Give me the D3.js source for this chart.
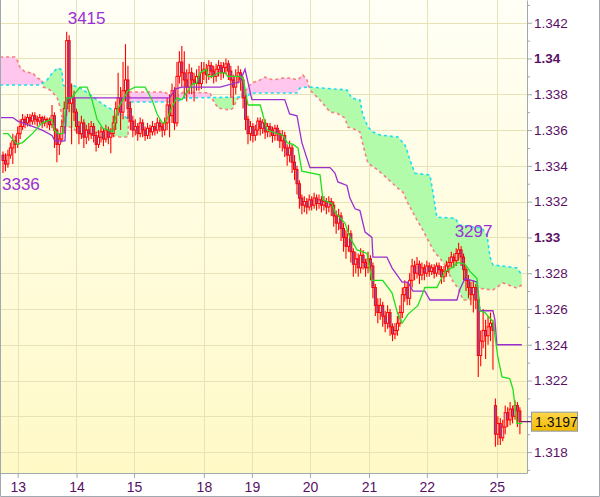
<!DOCTYPE html>
<html><head><meta charset="utf-8">
<script src="https://cdn.jsdelivr.net/npm/d3@7"></script>
<style>html,body{margin:0;padding:0;background:#fff;} svg{display:block;font-family:"Liberation Sans",Arial,sans-serif;}</style>
</head><body><svg id="c" width="600" height="497"></svg>
<script>
// ---- hourly candles (index 0..211) ----
const opens = [
1.3346,1.3343,1.3341,1.3346,1.3350,1.3354,1.3352,1.3358,1.3362,1.3366,
1.3364,1.3367,1.3365,1.3368,1.3366,1.3365,1.3367,1.3364,1.3366,1.3365,
1.3363,1.3368,1.3360,1.3352,1.3355,1.3362,1.3372,1.3410,1.3375,1.3378,
1.3370,1.3362,1.3358,1.3364,1.3356,1.3360,1.3358,1.3362,1.3357,1.3352,
1.3356,1.3359,1.3355,1.3360,1.3356,1.3358,1.3364,1.3372,1.3378,1.3370,
1.3382,1.3388,1.3372,1.3365,1.3360,1.3362,1.3358,1.3364,1.3360,1.3357,
1.3361,1.3359,1.3362,1.3360,1.3364,1.3362,1.3360,1.3364,1.3374,1.3368,
1.3382,1.3364,1.3390,1.3398,1.3392,1.3388,1.3384,1.3392,1.3388,1.3386,
1.3390,1.3386,1.3392,1.3394,1.3391,1.3396,1.3393,1.3390,1.3394,1.3396,
1.3392,1.3395,1.3397,1.3393,1.3388,1.3384,1.3390,1.3392,1.3388,1.3378,
1.3366,1.3358,1.3362,1.3357,1.3360,1.3365,1.3361,1.3364,1.3359,1.3362,
1.3360,1.3357,1.3361,1.3358,1.3354,1.3357,1.3350,1.3346,1.3350,1.3342,
1.3338,1.3330,1.3322,1.3318,1.3320,1.3317,1.3321,1.3318,1.3322,1.3319,
1.3321,1.3318,1.3320,1.3317,1.3320,1.3318,1.3312,1.3308,1.3312,1.3305,
1.3300,1.3295,1.3302,1.3292,1.3285,1.3288,1.3283,1.3290,1.3286,1.3283,
1.3288,1.3284,1.3272,1.3262,1.3258,1.3262,1.3256,1.3252,1.3258,1.3250,
1.3246,1.3248,1.3252,1.3258,1.3268,1.3272,1.3266,1.3276,1.3284,1.3280,
1.3285,1.3279,1.3283,1.3280,1.3284,1.3281,1.3283,1.3280,1.3284,1.3282,
1.3278,1.3281,1.3284,1.3286,1.3289,1.3287,1.3291,1.3293,1.3289,1.3282,
1.3276,1.3272,1.3268,1.3272,1.3265,1.3234,1.3242,1.3248,1.3245,1.3250,
1.3252,1.3206,1.3190,1.3196,1.3188,1.3194,1.3202,1.3198,1.3204,1.3200,
1.3206,1.3203];
const highs = [
1.3348,1.3347,1.3349,1.3353,1.3358,1.3357,1.3362,1.3366,1.3369,1.3368,
1.3369,1.3369,1.3370,1.3370,1.3368,1.3369,1.3368,1.3368,1.3367,1.3367,
1.3374,1.3370,1.3361,1.3358,1.3366,1.3376,1.3415,1.3413,1.3386,1.3382,
1.3372,1.3365,1.3368,1.3366,1.3363,1.3364,1.3365,1.3364,1.3359,1.3360,
1.3362,1.3361,1.3363,1.3362,1.3361,1.3368,1.3376,1.3392,1.3384,1.3398,
1.3408,1.3396,1.3376,1.3368,1.3366,1.3364,1.3367,1.3366,1.3362,1.3364,
1.3363,1.3365,1.3364,1.3367,1.3366,1.3364,1.3367,1.3378,1.3380,1.3386,
1.3384,1.3398,1.3404,1.3407,1.3404,1.3394,1.3397,1.3395,1.3392,1.3394,
1.3396,1.3398,1.3398,1.3397,1.3399,1.3398,1.3396,1.3397,1.3399,1.3398,
1.3398,1.3400,1.3399,1.3396,1.3391,1.3394,1.3396,1.3394,1.3390,1.3380,
1.3368,1.3365,1.3364,1.3363,1.3367,1.3367,1.3366,1.3366,1.3364,1.3364,
1.3362,1.3363,1.3363,1.3360,1.3360,1.3359,1.3352,1.3354,1.3352,1.3346,
1.3340,1.3332,1.3324,1.3323,1.3322,1.3324,1.3323,1.3325,1.3324,1.3324,
1.3323,1.3323,1.3322,1.3323,1.3322,1.3320,1.3315,1.3316,1.3314,1.3308,
1.3304,1.3307,1.3304,1.3294,1.3292,1.3291,1.3294,1.3293,1.3288,1.3292,
1.3290,1.3286,1.3274,1.3266,1.3266,1.3264,1.3259,1.3262,1.3260,1.3252,
1.3252,1.3256,1.3262,1.3272,1.3276,1.3275,1.3280,1.3288,1.3287,1.3289,
1.3287,1.3286,1.3285,1.3287,1.3286,1.3285,1.3285,1.3286,1.3286,1.3284,
1.3284,1.3287,1.3289,1.3292,1.3291,1.3294,1.3297,1.3295,1.3291,1.3284,
1.3279,1.3275,1.3276,1.3274,1.3268,1.3248,1.3260,1.3254,1.3256,1.3258,
1.3254,1.3210,1.3200,1.3199,1.3198,1.3206,1.3205,1.3208,1.3206,1.3209,
1.3208,1.3205];
const lows = [
1.3336,1.3337,1.3339,1.3344,1.3341,1.3347,1.3350,1.3355,1.3360,1.3361,
1.3362,1.3362,1.3363,1.3363,1.3362,1.3363,1.3361,1.3362,1.3361,1.3360,
1.3361,1.3350,1.3342,1.3346,1.3353,1.3358,1.3368,1.3370,1.3352,1.3365,
1.3358,1.3352,1.3355,1.3350,1.3352,1.3354,1.3355,1.3353,1.3348,1.3350,
1.3353,1.3351,1.3353,1.3352,1.3347,1.3356,1.3360,1.3368,1.3360,1.3366,
1.3376,1.3366,1.3360,1.3356,1.3357,1.3354,1.3356,1.3356,1.3354,1.3355,
1.3355,1.3357,1.3357,1.3358,1.3359,1.3356,1.3357,1.3360,1.3356,1.3364,
1.3360,1.3362,1.3386,1.3384,1.3378,1.3376,1.3380,1.3380,1.3376,1.3382,
1.3382,1.3383,1.3388,1.3386,1.3388,1.3389,1.3386,1.3387,1.3390,1.3388,
1.3389,1.3391,1.3388,1.3378,1.3374,1.3380,1.3386,1.3382,1.3372,1.3360,
1.3352,1.3354,1.3353,1.3354,1.3357,1.3357,1.3358,1.3355,1.3356,1.3356,
1.3353,1.3354,1.3354,1.3350,1.3348,1.3345,1.3340,1.3342,1.3336,1.3332,
1.3324,1.3316,1.3313,1.3314,1.3313,1.3315,1.3315,1.3316,1.3315,1.3316,
1.3314,1.3315,1.3313,1.3314,1.3312,1.3306,1.3302,1.3304,1.3298,1.3292,
1.3288,1.3292,1.3286,1.3278,1.3280,1.3278,1.3280,1.3282,1.3278,1.3280,
1.3276,1.3266,1.3256,1.3252,1.3254,1.3250,1.3247,1.3249,1.3245,1.3242,
1.3243,1.3245,1.3250,1.3255,1.3264,1.3262,1.3262,1.3272,1.3276,1.3277,
1.3274,1.3276,1.3276,1.3278,1.3278,1.3279,1.3277,1.3278,1.3279,1.3274,
1.3275,1.3278,1.3280,1.3283,1.3283,1.3284,1.3287,1.3284,1.3276,1.3270,
1.3266,1.3262,1.3258,1.3260,1.3222,1.3228,1.3238,1.3232,1.3240,1.3242,
1.3226,1.3183,1.3184,1.3184,1.3186,1.3190,1.3194,1.3195,1.3196,1.3198,
1.3194,1.3190];
const closes = [
1.3343,1.3341,1.3346,1.3350,1.3354,1.3352,1.3358,1.3362,1.3366,1.3364,
1.3367,1.3365,1.3368,1.3366,1.3365,1.3367,1.3364,1.3366,1.3365,1.3363,
1.3368,1.3360,1.3352,1.3355,1.3362,1.3372,1.3410,1.3375,1.3378,1.3370,
1.3362,1.3358,1.3364,1.3356,1.3360,1.3358,1.3362,1.3357,1.3352,1.3356,
1.3359,1.3355,1.3360,1.3356,1.3358,1.3364,1.3372,1.3378,1.3370,1.3382,
1.3388,1.3372,1.3365,1.3360,1.3362,1.3358,1.3364,1.3360,1.3357,1.3361,
1.3359,1.3362,1.3360,1.3364,1.3362,1.3360,1.3364,1.3374,1.3368,1.3382,
1.3364,1.3390,1.3398,1.3392,1.3388,1.3384,1.3392,1.3388,1.3386,1.3390,
1.3386,1.3392,1.3394,1.3391,1.3396,1.3393,1.3390,1.3394,1.3396,1.3392,
1.3395,1.3397,1.3393,1.3388,1.3384,1.3390,1.3392,1.3388,1.3378,1.3366,
1.3358,1.3362,1.3357,1.3360,1.3365,1.3361,1.3364,1.3359,1.3362,1.3360,
1.3357,1.3361,1.3358,1.3354,1.3357,1.3350,1.3346,1.3350,1.3342,1.3338,
1.3330,1.3322,1.3318,1.3320,1.3317,1.3321,1.3318,1.3322,1.3319,1.3321,
1.3318,1.3320,1.3317,1.3320,1.3318,1.3312,1.3308,1.3312,1.3305,1.3300,
1.3295,1.3302,1.3292,1.3285,1.3288,1.3283,1.3290,1.3286,1.3283,1.3288,
1.3284,1.3272,1.3262,1.3258,1.3262,1.3256,1.3252,1.3258,1.3250,1.3246,
1.3248,1.3252,1.3258,1.3268,1.3272,1.3266,1.3276,1.3284,1.3280,1.3285,
1.3279,1.3283,1.3280,1.3284,1.3281,1.3283,1.3280,1.3284,1.3282,1.3278,
1.3281,1.3284,1.3286,1.3289,1.3287,1.3291,1.3293,1.3289,1.3282,1.3276,
1.3272,1.3268,1.3272,1.3265,1.3234,1.3242,1.3248,1.3245,1.3250,1.3252,
1.3248,1.3190,1.3196,1.3188,1.3194,1.3202,1.3198,1.3204,1.3200,1.3206,
1.3203,1.3197];

// ---- date axis ----
const dateLabels = ["13","14","15","18","19","20","21","22","25"];
const dateIdx = [6, 30, 53.5, 82, 101.6, 125.3, 149.4, 173, 201.6];

// ---- price axis ----
const majorTicks = [1.318,1.320,1.322,1.324,1.326,1.328,1.330,1.332,1.334,1.336,1.338,1.340,1.342];
const minorTicks = [1.317,1.319,1.321,1.323,1.325,1.327,1.329,1.331,1.333,1.335,1.337,1.339,1.341,1.343];
const boldTicks = [1.320,1.330,1.340];

// ---- Ichimoku lines (index, price) ----
const tenkanIdx = [0,2,5.7,8,12,16,20,21,22.5,24.5,26,28,31.4,34.3,36.3,38.4,40.8,44.9,46.5,48.6,51,53.9,58,60.8,62.9,65,66,67.3,69,71,73,75,77.6,79,80.4,83,83.7,85.7,87.8,90.6,91.8,96.7,98,100,105,107.8,114.3,116,118.4,120.4,122,129.4,130.6,134.3,135.5,139.6,141.6,144.5,148.6,150.6,155,158.8,161.2,162.9,165.3,169.4,171.4,172.2,177.1,180.4,183.3,185.7,188.6,190.6,193.5,194.7,196.7,200,202,203.7,206.9,208.2,209.8,211.8];
const tenkanVal = [1.3358,1.3358,1.3352,1.3353,1.3358,1.3364,1.3366,1.3360,1.3358,1.3358,1.3378,1.3378,1.3384,1.3384,1.3377,1.3366,1.3361,1.3359,1.3371,1.3376,1.3382,1.3384,1.3384,1.3377,1.3369,1.3364,1.3364,1.3367,1.3373,1.3378,1.3377,1.3381,1.3386,1.3386,1.3392,1.3394,1.3390,1.3390,1.3392,1.3392,1.3390,1.3390,1.3389,1.3374,1.3374,1.3360,1.3357,1.3353,1.3352,1.3350,1.3337,1.3335,1.3321,1.3319,1.3314,1.3308,1.3300,1.3293,1.3291,1.3276,1.3276,1.3269,1.3257,1.3252,1.3257,1.3262,1.3269,1.3272,1.3272,1.3281,1.3283,1.3286,1.3285,1.3281,1.3277,1.3259,1.3258,1.3253,1.3233,1.3222,1.3221,1.3215,1.3196,1.3196];
const kijunIdx = [-1.2,4,6,12,16,20,21.2,25.3,26.1,68,70.5,73,88.6,96.7,98.8,101.6,115,117,120,122,125.3,133.5,135.5,136.7,140.4,141.6,143.7,145.7,147.8,150.6,151,156.7,158.8,162.9,165.3,167.3,172.2,174.3,185.3,186.5,188.6,193.5,194.7,200,200.8,201.6,211.8];
const kijunVal = [1.3367,1.3367,1.3365,1.3362,1.3360,1.3357,1.3354,1.3354,1.3378,1.3378,1.3383,1.3384,1.3384,1.3387,1.3394,1.3377,1.3377,1.3369,1.3368,1.3353,1.3339,1.3339,1.3336,1.3331,1.3329,1.3322,1.3316,1.3315,1.3303,1.3300,1.3289,1.3289,1.3283,1.3275,1.3275,1.3270,1.3270,1.3265,1.3265,1.3271,1.3277,1.3275,1.3259,1.3259,1.3254,1.3240,1.3240];
const spanAIdx = [-1.2,15.1,18,20.4,22.4,24.1,24.5,26.5,28.2,31.4,34.7,38.4,42.4,46.5,48.6,50.6,51,51.8,71.4,73.1,100,100.8,120,121.2,124.5,140.4,142.4,145.7,146.9,149,151,153.9,161.2,164.1,164.9,166.1,168.2,174.3,175.5,177.1,184.5,186.5,195.5,197.6,198.8,200,209.8,211.8];
const spanAVal = [1.33852,1.33852,1.3388,1.33924,1.33947,1.33936,1.33852,1.33841,1.33852,1.33835,1.33807,1.33768,1.33729,1.33701,1.33684,1.33667,1.33656,1.33757,1.33757,1.33779,1.33785,1.33807,1.33807,1.33835,1.33841,1.33824,1.33779,1.33768,1.33684,1.33617,1.33589,1.33572,1.33561,1.33516,1.33488,1.33432,1.33359,1.33348,1.33252,1.33113,1.33107,1.33069,1.33052,1.33013,1.3289,1.32846,1.32829,1.3279];
const spanBIdx = [-1.2,4.9,5.7,6.9,9,12.2,13.9,15.9,16.3,19.2,22,23.3,24.1,24.5,28.2,30.2,32.7,36.3,38.4,40.8,43.7,47.8,51,51.8,66.1,68.2,72.2,73.5,84.5,85.7,87.8,92.7,93.9,95.9,97.6,100,101.6,104.9,106.9,110.2,114.3,117.1,120.4,122.4,124.1,125.3,126.1,129.4,133.5,136.3,139.6,140.8,144.5,145.7,146.5,147.8,149,153.1,156.7,160.8,163.3,165.3,169,171.4,173.5,176.3,178,180.4,183.3,185.7,187.8,190.6,193.5,200,204.1,209.8,211.8];
const spanBVal = [1.34008,1.34008,1.33992,1.33952,1.33924,1.33919,1.33891,1.3388,1.33841,1.33824,1.33785,1.33729,1.33673,1.33617,1.33617,1.33589,1.33572,1.33572,1.33589,1.33589,1.33572,1.33561,1.33561,1.33813,1.33813,1.3379,1.33796,1.33813,1.33807,1.33768,1.33723,1.33712,1.33723,1.33779,1.3379,1.33841,1.33863,1.3388,1.33896,1.3388,1.33891,1.33891,1.3388,1.33908,1.3388,1.33824,1.33813,1.33768,1.33701,1.33695,1.33667,1.33617,1.336,1.33589,1.33544,1.33471,1.33415,1.33376,1.33331,1.3328,1.33252,1.33191,1.33097,1.33041,1.32985,1.32913,1.3289,1.32846,1.32762,1.32717,1.3265,1.3265,1.32717,1.32706,1.32745,1.32717,1.32734];

// ---- annotations ----
const annText = ["3415","3336","3297"];
const annIdx = [26, 0, 186];
const annPrice = [1.3415, 1.3336, 1.3297];
const lastPrice = 1.3197;

// =================== drawing ===================
const W = 527, H = 473;
const svg = d3.select("#c");
const x = d3.scaleLinear().domain([-1.224, 213.9]).range([0, W]);
const y = d3.scaleLinear().domain([1.31683, 1.34327]).range([H, 0]);

const defs = svg.append("defs");
const bg = defs.append("linearGradient").attr("id","bg").attr("x1",0).attr("y1",0).attr("x2",0).attr("y2",1);
bg.append("stop").attr("offset","0%").attr("stop-color","#fffff6");
bg.append("stop").attr("offset","100%").attr("stop-color","#fff9c6");
const gold = defs.append("linearGradient").attr("id","gold").attr("x1",0).attr("y1",0).attr("x2",0).attr("y2",1);
gold.append("stop").attr("offset","0%").attr("stop-color","#ffd84a");
gold.append("stop").attr("offset","100%").attr("stop-color","#f2b800");
defs.append("clipPath").attr("id","plot").append("rect").attr("width",W).attr("height",H);

svg.append("rect").attr("width",W).attr("height",H).attr("fill","url(#bg)");

const plot = svg.append("g").attr("clip-path","url(#plot)");

// grid
plot.selectAll(".hg").data(majorTicks).join("line")
  .attr("x1",0).attr("x2",W).attr("y1",d=>Math.round(y(d))+0.5).attr("y2",d=>Math.round(y(d))+0.5)
  .attr("stroke","#e7e2b8").attr("stroke-width",1);
plot.selectAll(".vg").data(dateIdx).join("line")
  .attr("y1",0).attr("y2",H).attr("x1",d=>Math.round(x(d))+0.5).attr("x2",d=>Math.round(x(d))+0.5)
  .attr("stroke","#e7e2b8").attr("stroke-width",1);

// cloud
const sA = d3.scaleLinear().domain(spanAIdx).range(spanAVal);
const sB = d3.scaleLinear().domain(spanBIdx).range(spanBVal);
const grid = Array.from(new Set(spanAIdx.concat(spanBIdx))).sort((a,b)=>a-b);
const areaAB = d3.area().x(d=>x(d)).y0(d=>y(sA(d))).y1(d=>y(sB(d)));
const aboveA = d3.area().x(d=>x(d)).y0(0).y1(d=>y(sA(d)));
const aboveB = d3.area().x(d=>x(d)).y0(0).y1(d=>y(sB(d)));
defs.append("clipPath").attr("id","clipA").append("path").attr("d",aboveA(grid));
defs.append("clipPath").attr("id","clipB").append("path").attr("d",aboveB(grid));
plot.append("g").attr("clip-path","url(#clipB)").append("path").attr("d",areaAB(grid)).attr("fill","#b2fbaa");
plot.append("g").attr("clip-path","url(#clipA)").append("path").attr("d",areaAB(grid)).attr("fill","#ffc6ee");

const lineIdx = (xs, vs) => d3.line().x((d,i)=>x(xs[i])).y((d,i)=>y(vs[i]))(xs);
plot.append("path").attr("d",lineIdx(spanBIdx,spanBVal)).attr("fill","none")
  .attr("stroke","#f77f7f").attr("stroke-width",1.6).attr("stroke-dasharray","3,3");
plot.append("path").attr("d",lineIdx(spanAIdx,spanAVal)).attr("fill","none")
  .attr("stroke","#19e0f0").attr("stroke-width",1.6).attr("stroke-dasharray","3,3");

// candles
const idx = d3.range(closes.length);
const cg = plot.append("g");
cg.selectAll(".wick").data(idx).join("line")
  .attr("x1",i=>x(i)).attr("x2",i=>x(i))
  .attr("y1",i=>y(highs[i])).attr("y2",i=>y(lows[i]))
  .attr("stroke","#ff0000").attr("stroke-width",1.1);
cg.selectAll(".body").data(idx).join("rect")
  .attr("x",i=>x(i)-1).attr("width",2)
  .attr("y",i=>y(Math.max(opens[i],closes[i])))
  .attr("height",i=>Math.max(0.8, Math.abs(y(opens[i])-y(closes[i]))))
  .attr("fill",i=>closes[i]>=opens[i] ? "#ffffff" : "#6f5fd0")
  .attr("stroke","#ff0000").attr("stroke-width",1);

// tenkan & kijun
plot.append("path").attr("d",lineIdx(kijunIdx,kijunVal)).attr("fill","none")
  .attr("stroke","#9a2fd0").attr("stroke-width",1.3);
plot.append("path").attr("d",lineIdx(tenkanIdx,tenkanVal)).attr("fill","none")
  .attr("stroke","#1ee01e").attr("stroke-width",1.3);

// annotations
const annDx = [1, -1, -4], annDy = [-8, 17, -6];
svg.selectAll(".ann").data(annText).join("text")
  .attr("x",(d,i)=>x(annIdx[i])+annDx[i]).attr("y",(d,i)=>y(annPrice[i])+annDy[i])
  .attr("font-size",17).attr("fill","#9a30d4").text(d=>d);

// axes
const axisColor = "#a0a8b0", textColor = "#5a0f66";
const ay = svg.append("g").attr("transform",`translate(${W},0)`)
  .call(d3.axisRight(y).tickValues(majorTicks).tickSize(5).tickSizeOuter(0).tickPadding(2)
        .tickFormat(d=>d3.format(".3~f")(d)));
ay.select(".domain").attr("stroke",axisColor);
ay.selectAll(".tick line").attr("stroke",axisColor);
ay.selectAll(".tick text").attr("font-size",13.5).attr("font-family","Liberation Sans, Arial, sans-serif")
  .attr("fill",textColor)
  .attr("font-weight",d=>boldTicks.some(b=>Math.abs(b-d)<1e-9)?"bold":"normal");
const aym = svg.append("g").attr("transform",`translate(${W},0)`)
  .call(d3.axisRight(y).tickValues(minorTicks).tickSize(3).tickSizeOuter(0).tickFormat(""));
aym.select(".domain").remove();
aym.selectAll(".tick line").attr("stroke",axisColor);

const ax = svg.append("g").attr("transform",`translate(0,${H})`)
  .call(d3.axisBottom(x).tickValues(dateIdx).tickSize(5).tickSizeOuter(0).tickPadding(4)
        .tickFormat((d,i)=>dateLabels[i]));
ax.select(".domain").attr("stroke",axisColor);
ax.selectAll(".tick line").attr("stroke",axisColor);
ax.selectAll(".tick text").attr("font-size",14).attr("font-family","Liberation Sans, Arial, sans-serif").attr("fill",textColor);

// outer frame
svg.append("path").attr("d","M0.5,0V496.5H599.5V0").attr("fill","none").attr("stroke",axisColor);

// last price marker (covers the 1.32 label, as in the reference)
const ly = y(lastPrice);
svg.append("line").attr("x1",W-6).attr("x2",W+5).attr("y1",ly).attr("y2",ly).attr("stroke","#6a0f6a").attr("stroke-width",1.2);
svg.append("rect").attr("x",W+4.5).attr("y",ly-9.5).attr("width",46).attr("height",19)
  .attr("fill","url(#gold)").attr("stroke","#8a96a8");
svg.append("text").attr("x",W+8).attr("y",ly+5.2).attr("font-size",14)
  .attr("fill","#111").text(d3.format(".4f")(lastPrice));
</script></body></html>
